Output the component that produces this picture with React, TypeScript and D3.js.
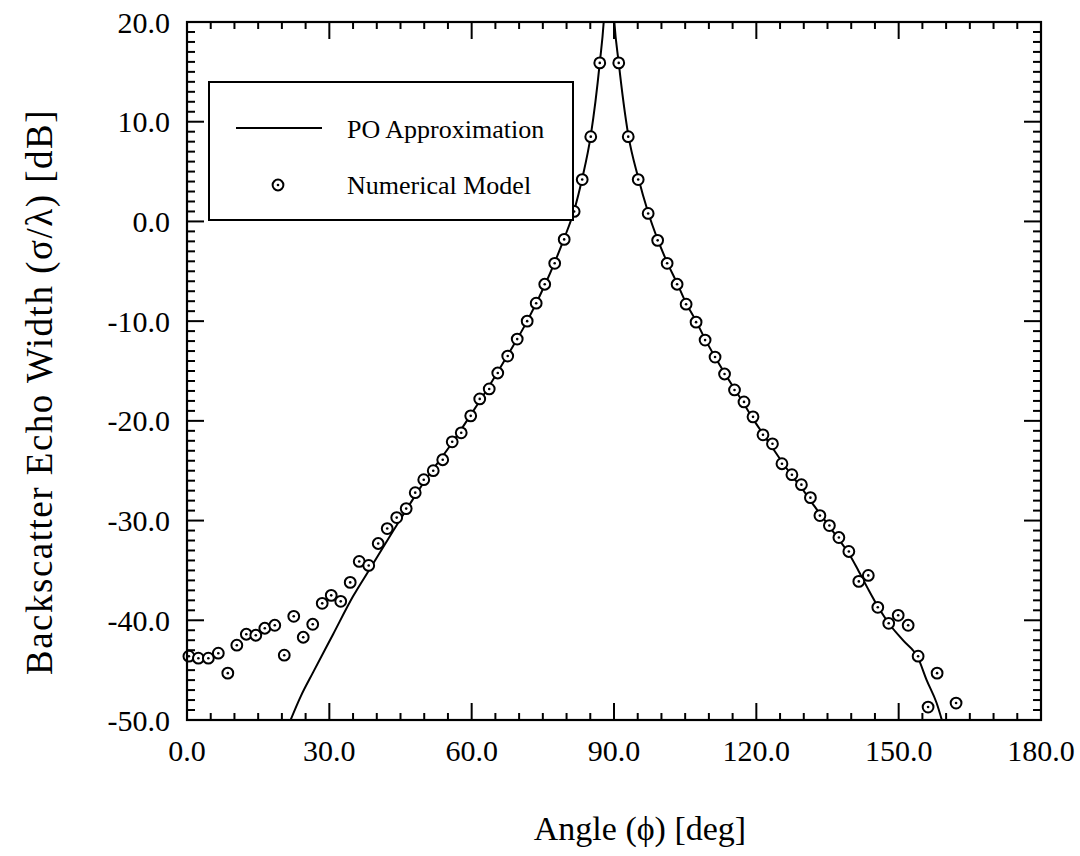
import React from "react";
import * as d3 from "d3";

// Numerical model (circles): angle [deg], echo width [dB]
const NUM_ANGLE = [
  0.4, 2.4, 4.5, 6.6, 8.6, 10.5, 12.5, 14.5, 16.4, 18.5, 20.5, 22.5, 24.5, 26.5, 28.5,
  30.4, 32.4, 34.4, 36.3, 38.3, 40.3, 42.2, 44.2, 46.2, 48.1, 49.9, 51.9, 53.9, 55.9,
  57.8, 59.8, 61.7, 63.7, 65.5, 67.6, 69.6, 71.7, 73.6, 75.4, 77.5, 79.5, 81.6, 83.3,
  85.1, 87.0,
  91.0, 93.0, 95.1, 97.2, 99.2, 101.2, 103.3, 105.2, 107.3, 109.2, 111.3, 113.3, 115.4,
  117.4, 119.3, 121.4, 123.4, 125.4, 127.5, 129.5, 131.4, 133.4, 135.4, 137.4, 139.5,
  141.6, 143.6, 145.6, 147.9, 149.9, 152.0, 154.1, 156.2, 158.1, 162.1,
];
const NUM_DB = [
  -43.6, -43.8, -43.8, -43.3, -45.3, -42.5, -41.4, -41.5, -40.8, -40.5, -43.5, -39.6,
  -41.7, -40.4, -38.3, -37.5, -38.1, -36.2, -34.1, -34.5, -32.3, -30.8, -29.7, -28.8,
  -27.2, -25.9, -25.0, -23.9, -22.1, -21.2, -19.5, -17.8, -16.8, -15.2, -13.5, -11.8,
  -10.0, -8.2, -6.3, -4.2, -1.8, 1.0, 4.2, 8.5, 15.9,
  15.9, 8.5, 4.2, 0.8, -1.9, -4.2, -6.3, -8.3, -10.1, -11.9, -13.6, -15.3, -16.9,
  -18.1, -19.6, -21.4, -22.3, -24.3, -25.4, -26.4, -27.7, -29.5, -30.5, -31.7, -33.1,
  -36.1, -35.5, -38.7, -40.3, -39.5, -40.5, -43.6, -48.7, -45.3, -48.3,
];

// PO approximation (solid line)
const PO_ANGLE = [
  21.4, 24.0, 26.6, 30.8, 35.0, 38.6, 43.5, 47.7, 50.0, 55.9, 59.8, 63.7, 67.6, 71.7,
  75.4, 77.5, 79.5, 81.6, 83.3, 85.1, 87.0, 87.9, 88.95, 90.0, 91.0, 93.0, 95.1, 97.2,
  99.2, 101.2, 103.3, 105.2, 107.3, 109.2, 111.3, 113.3, 115.4, 117.4, 119.3, 121.4,
  123.4, 125.4, 127.5, 129.5, 131.4, 133.4, 135.4, 137.4, 139.5, 141.6, 143.6, 145.6,
  147.9, 150.9, 154.1, 155.9, 158.0, 159.4,
];
const PO_DB = [
  -50.5, -47.6, -45.2, -41.4, -37.6, -34.8, -31.0, -27.8, -26.1, -22.2, -19.4, -16.5,
  -13.4, -10.0, -6.4, -4.1, -1.7, 1.1, 4.3, 8.6, 15.9, 20.5, 32.0, 20.5, 15.9, 8.7,
  4.4, 0.9, -1.8, -4.1, -6.2, -8.2, -10.0, -11.8, -13.6, -15.2, -16.8, -18.3, -19.8,
  -21.3, -22.7, -24.1, -25.5, -26.7, -28.0, -29.3, -30.6, -31.9, -33.3, -35.1, -36.9,
  -38.6, -40.3, -42.0, -43.8, -46.0, -48.3, -50.5,
];

const X_TICKS = [0, 30, 60, 90, 120, 150, 180];
const X_TICK_LABELS = ["0.0", "30.0", "60.0", "90.0", "120.0", "150.0", "180.0"];
const Y_TICKS = [-50, -40, -30, -20, -10, 0, 10, 20];
const Y_TICK_LABELS = ["-50.0", "-40.0", "-30.0", "-20.0", "-10.0", "0.0", "10.0", "20.0"];

const X_LABEL = "Angle (\u03d5) [deg]";
const Y_LABEL = "Backscatter Echo Width (\u03c3/\u03bb) [dB]";
const LEGEND_LABELS = ["PO Approximation", "Numerical Model"];

const W = 1080;
const H = 856;
const L = 187, R = 1041, T = 22, B = 720;
const FONT = "'Liberation Serif', 'DejaVu Serif', serif";

function Marker({ x, y }: { x: number; y: number }) {
  return (
    <g>
      <circle cx={x} cy={y} r={5.4} fill="white" stroke="black" strokeWidth={2} />
      <circle cx={x} cy={y} r={1.3} fill="black" />
    </g>
  );
}

export default function App() {
  const x = d3.scaleLinear().domain([0, 180]).range([L, R]);
  const y = d3.scaleLinear().domain([-50, 20]).range([B, T]);

  const xMinor = d3.range(0, 181, 5).filter((v) => v % 30 !== 0);
  const yMinor = d3.range(-50, 21, 1).filter((v) => v % 10 !== 0);

  const poData = PO_ANGLE.map((a, i) => [a, PO_DB[i]] as [number, number]);
  const line = d3
    .line<[number, number]>()
    .x((d) => x(d[0]))
    .y((d) => y(d[1]))
    .curve(d3.curveMonotoneX);

  const numData = NUM_ANGLE.map((a, i) => [a, NUM_DB[i]] as [number, number]);

  const MAJ = 17, MINX = 7, MINY = 8;

  return (
    <svg
      width={W}
      height={H}
      style={{ position: "absolute", left: 0, top: 0, background: "white" }}
      fontFamily={FONT}
    >
      <defs>
        <clipPath id="plotclip">
          <rect x={L} y={T} width={R - L} height={B - T} />
        </clipPath>
      </defs>
      <rect x={0} y={0} width={W} height={H} fill="white" />

      {/* ticks */}
      <g stroke="black" strokeWidth={2}>
        {X_TICKS.map((t) => (
          <g key={"xt" + t}>
            <line x1={x(t)} x2={x(t)} y1={B} y2={B - MAJ} />
            <line x1={x(t)} x2={x(t)} y1={T} y2={T + MAJ} />
          </g>
        ))}
        {xMinor.map((t) => (
          <g key={"xm" + t}>
            <line x1={x(t)} x2={x(t)} y1={B} y2={B - MINX} />
            <line x1={x(t)} x2={x(t)} y1={T} y2={T + MINX} />
          </g>
        ))}
        {Y_TICKS.map((t) => (
          <g key={"yt" + t}>
            <line x1={L} x2={L + MAJ} y1={y(t)} y2={y(t)} />
            <line x1={R} x2={R - MAJ} y1={y(t)} y2={y(t)} />
          </g>
        ))}
        {yMinor.map((t) => (
          <g key={"ym" + t}>
            <line x1={L} x2={L + MINY} y1={y(t)} y2={y(t)} />
            <line x1={R} x2={R - MINY} y1={y(t)} y2={y(t)} />
          </g>
        ))}
      </g>

      {/* PO line */}
      <path
        d={line(poData) || ""}
        fill="none"
        stroke="black"
        strokeWidth={2}
        clipPath="url(#plotclip)"
      />

      {/* numerical model markers */}
      {numData.map((d, i) => (
        <Marker key={"m" + i} x={x(d[0])} y={y(d[1])} />
      ))}

      {/* frame */}
      <rect x={L} y={T} width={R - L} height={B - T} fill="none" stroke="black" strokeWidth={2.2} />

      {/* legend */}
      <g>
        <rect x={209} y={82} width={364} height={138} fill="white" stroke="black" strokeWidth={2} />
        <line x1={236} x2={322} y1={128} y2={128} stroke="black" strokeWidth={2} />
        <text x={347} y={129} dominantBaseline="central" fontSize={26}>
          {LEGEND_LABELS[0]}
        </text>
        <Marker x={278} y={185} />
        <text x={347} y={185} dominantBaseline="central" fontSize={26}>
          {LEGEND_LABELS[1]}
        </text>
      </g>

      {/* tick labels */}
      {X_TICKS.map((t, i) => (
        <text key={"xl" + t} x={x(t)} y={761} textAnchor="middle" fontSize={30}>
          {X_TICK_LABELS[i]}
        </text>
      ))}
      {Y_TICKS.map((t, i) => (
        <text
          key={"yl" + t}
          x={170}
          y={y(t)}
          textAnchor="end"
          dominantBaseline="central"
          fontSize={30}
        >
          {Y_TICK_LABELS[i]}
        </text>
      ))}

      {/* axis titles */}
      <text x={640} y={840} textAnchor="middle" fontSize={34}>
        {X_LABEL}
      </text>
      <text
        transform={`translate(52, 392) rotate(-90)`}
        textAnchor="middle"
        fontSize={37}
        letterSpacing={1.5}
      >
        {Y_LABEL}
      </text>
    </svg>
  );
}
